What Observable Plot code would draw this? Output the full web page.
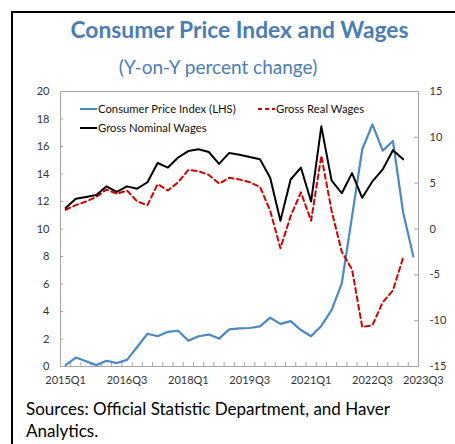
<!DOCTYPE html>
<html><head><meta charset="utf-8">
<script src="https://cdn.jsdelivr.net/npm/d3@7"></script>
<script src="https://cdn.jsdelivr.net/npm/@observablehq/plot@0.6"></script>
<style>
body{margin:0;background:#fff;font-family:Lato,sans-serif;}
#wrap{position:relative;width:455px;height:444px;overflow:hidden;background:#fff;}
#frame{position:absolute;left:11px;top:11px;width:460px;height:440px;border-left:2px solid #000;border-top:2px solid #000;}
#title{position:absolute;left:0;width:479px;top:16px;text-align:center;font-weight:700;font-size:22.8px;line-height:1.2;color:#4a7db5;white-space:nowrap;}
#subtitle{position:absolute;left:0;width:436px;top:56px;text-align:center;font-size:19px;line-height:1.2;color:#4a7db5;white-space:nowrap;}
#chart{position:absolute;left:0;top:80px;}
.leg{position:absolute;font-size:11.3px;line-height:14px;color:#111;white-space:nowrap;}
.leg svg{position:absolute;}
#caption{position:absolute;left:26px;top:398px;font-size:17px;line-height:21.5px;color:#000;white-space:nowrap;}
</style>
</head><body>
<div id="wrap">
  <div id="frame"></div>
  <div id="title">Consumer Price Index and Wages</div>
  <div id="subtitle">(Y-on-Y percent change)</div>
  <div id="chart"></div>
  <div id="legend"></div>
  <div id="caption">Sources: Official Statistic Department, and Haver<br>Analytics.</div>
</div>
<script>
const quarters = ["2015Q1","2015Q2","2015Q3","2015Q4","2016Q1","2016Q2","2016Q3","2016Q4",
  "2017Q1","2017Q2","2017Q3","2017Q4","2018Q1","2018Q2","2018Q3","2018Q4",
  "2019Q1","2019Q2","2019Q3","2019Q4","2020Q1","2020Q2","2020Q3","2020Q4",
  "2021Q1","2021Q2","2021Q3","2021Q4","2022Q1","2022Q2","2022Q3","2022Q4",
  "2023Q1","2023Q2","2023Q3"];
// Consumer Price Index, y-on-y % (left axis)
const cpi = [0.1,0.65,0.38,0.1,0.42,0.25,0.48,1.42,2.38,2.2,2.52,2.6,1.88,2.2,2.32,2.03,
  2.7,2.77,2.8,2.92,3.55,3.1,3.3,2.65,2.2,2.95,4.1,6.05,10.9,15.8,17.6,15.7,16.4,11.2,8.0];
// Gross Nominal Wages, y-on-y % (right axis)
const nominalWages = [2.3,3.3,3.5,3.7,4.65,4.05,4.65,4.4,5.1,7.2,6.7,7.8,8.5,8.7,8.4,7.1,
  8.3,8.1,7.85,7.6,5.6,0.9,5.4,6.7,3.0,11.2,5.3,3.9,6.1,3.4,5.2,6.5,8.6,7.6];
// Gross Real Wages, y-on-y % (right axis)
const realWages = [2.1,2.6,3.0,3.5,4.3,3.85,4.2,3.0,2.6,4.9,4.2,5.1,6.45,6.3,5.9,4.95,
  5.6,5.4,5.1,4.6,2.0,-2.1,1.4,4.0,0.9,8.0,2.0,-2.5,-4.4,-10.7,-10.5,-8.0,-6.7,-3.1];
const leftTicks = [0,2,4,6,8,10,12,14,16,18,20];
const rightTicks = [-15,-10,-5,0,5,10,15];
const xLabels = ["2015Q1","2016Q3","2018Q1","2019Q3","2021Q1","2022Q3"];
const xLastLabel = ["2023Q3"];

const colors = {cpi:"#4a89c5", nominal:"#000000", real:"#d40000"};
const seriesNames = {cpi:"Consumer Price Index (LHS)", nominal:"Gross Nominal Wages", real:"Gross Real Wages"};

// right axis (-15..15) mapped onto left scale (0..20)
const rightToLeft = v => (v + 15) / 1.5;
const leftToRight = v => Math.round(v * 1.5 - 15);

const rows = quarters.map((q, i) => ({
  i, q,
  cpi: cpi[i],
  nom: nominalWages[i] === undefined ? NaN : rightToLeft(nominalWages[i]),
  real: realWages[i] === undefined ? NaN : rightToLeft(realWages[i])
}));
const idx = q => quarters.indexOf(q);
const boundaries = quarters.slice(1).map((q, k) => k + 0.5);

const W = 455, H = 310, mL = 60, mR = 37, mT = 11, mB = 24;
const innerW = W - mL - mR, innerH = H - mT - mB;
const gray = "#a6a6a6";

const chart = Plot.plot({
  width: W, height: H,
  marginLeft: mL, marginRight: mR, marginTop: mT, marginBottom: mB,
  style: {fontFamily: "Lato, sans-serif", fontSize: "11px", color: "#333", background: "transparent"},
  x: {type: "linear", domain: [-0.5, quarters.length - 0.5]},
  y: {type: "linear", domain: [0, 20]},
  marks: [
    Plot.frame({stroke: gray}),
    Plot.tickY(leftTicks, {y: d => d, stroke: gray, insetRight: innerW - 3}),
    Plot.tickY(rightTicks.map(rightToLeft), {y: d => d, stroke: gray, insetLeft: innerW - 4}),
    Plot.tickX(boundaries, {x: d => d, stroke: gray, insetTop: innerH - 4}),
    Plot.axisY({anchor: "left", ticks: leftTicks, tickSize: 0, tickPadding: 11, tickFormat: d => String(d), label: null}),
    Plot.axisY({anchor: "right", ticks: rightTicks.map(rightToLeft), tickSize: 0, tickPadding: 11, tickFormat: d => String(leftToRight(d)), label: null}),
    Plot.axisX({ticks: xLabels.map(idx), tickSize: 0, tickPadding: 10, tickFormat: i => quarters[i], label: null}),
    Plot.axisX({ticks: xLastLabel.map(idx), tickSize: 0, tickPadding: 10, dx: 10, tickFormat: i => quarters[i], label: null}),
    Plot.line(rows, {x: "i", y: "cpi", stroke: colors.cpi, strokeWidth: 2.2}),
    Plot.line(rows, {x: "i", y: "real", stroke: colors.real, strokeWidth: 2, strokeDasharray: "5,3.5"}),
    Plot.line(rows, {x: "i", y: "nom", stroke: colors.nominal, strokeWidth: 2})
  ]
});
document.getElementById("chart").appendChild(chart);

// legend
const legendItems = [
  {key: "cpi", left: 80, top: 102, dash: null},
  {key: "real", left: 258, top: 102, dash: "4,3"},
  {key: "nominal", left: 80, top: 121, dash: null}
];
const legend = document.getElementById("legend");
for (const it of legendItems) {
  const d = document.createElement("div");
  d.className = "leg";
  d.style.left = it.left + "px";
  d.style.top = it.top + "px";
  d.style.paddingLeft = "18px";
  d.innerHTML = `<svg width="18" height="14" style="left:0;top:0"><line x1="0" x2="17" y1="7" y2="7" stroke="${colors[it.key]}" stroke-width="2" ${it.dash ? `stroke-dasharray="${it.dash}"` : ""}/></svg>${seriesNames[it.key]}`;
  legend.appendChild(d);
}
</script>
</body></html>
